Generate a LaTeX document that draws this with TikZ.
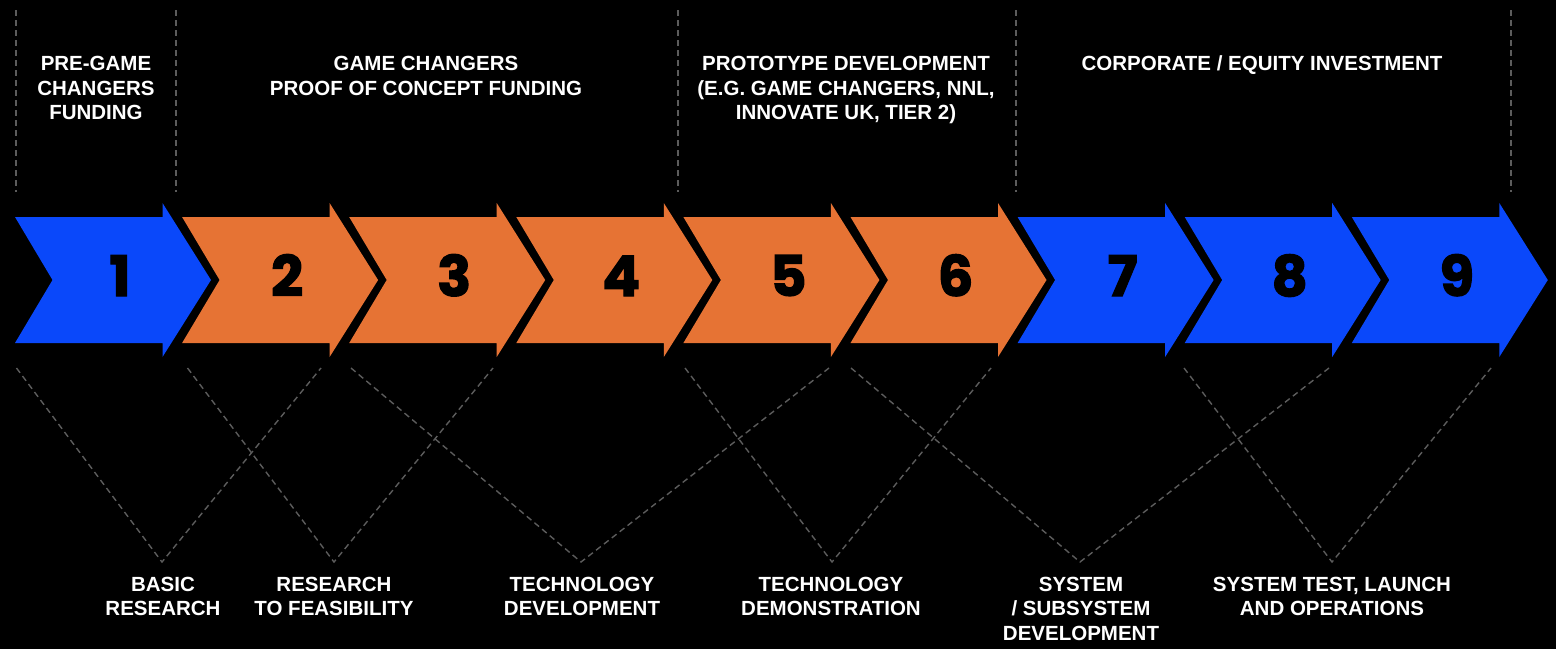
\documentclass[tikz,border=0pt]{standalone}
\usepackage{fontspec}
\setmainfont{Liberation Sans}
\newfontfamily\numfont{Poppins}[BoldFeatures={FakeBold=2.2}]
\definecolor{cblue}{RGB}{10,72,250}
\definecolor{corange}{RGB}{230,115,52}
\definecolor{cgray}{RGB}{92,92,92}
\begin{document}
\begin{tikzpicture}[x=1pt,y=-1pt,
  guide/.style={draw=cgray, line width=1.4pt, dash pattern=on 6pt off 4pt},
  numlbl/.style={font=\numfont\bfseries\fontsize{56}{56}\selectfont, text=black, anchor=base, inner sep=0pt},
  lbl/.style={font=\bfseries\fontsize{20.5}{24.7}\selectfont, text=white, align=center, inner sep=0pt, anchor=base}]
\fill[black] (0,0) rectangle (1556,649);
\useasboundingbox (0,0) rectangle (1556,649);
% chevrons
\foreach \i/\c in {1/cblue,2/corange,3/corange,4/corange,5/corange,6/corange,7/cblue,8/cblue,9/cblue}{
  \pgfmathsetmacro\xo{15+167.1*(\i-1)}
  \fill[\c] (\xo,217) -- (\xo+147.5,217) -- (\xo+147.5,203) -- (\xo+196,280) -- (\xo+147.5,357) -- (\xo+147.5,343) -- (\xo,343) -- (\xo+37.5,280) -- cycle;
  \node[numlbl] (n\i) at (\xo+105,296) {\i};
}
% top vertical guides
\foreach \k/\x in {1/16,2/176,3/678,4/1016,5/1511}{
  \coordinate (ta\k) at (\x,10);
  \coordinate (tb\k) at (\x,192);
  \draw[guide] (ta\k) -- (tb\k);
}
% top labels (anchor at baseline of last line)
\node[lbl] (f1) at (96,119.9) {PRE-GAME\\CHANGERS\\FUNDING};
\node[lbl] (f2) at (426,95.2) {GAME CHANGERS\\PROOF OF CONCEPT FUNDING};
\node[lbl] (f3) at (846,119.9) {PROTOTYPE DEVELOPMENT\\(E.G. GAME CHANGERS, NNL,\\INNOVATE UK, TIER 2)};
\node[lbl] (f4) at (1262,70.5) {CORPORATE / EQUITY INVESTMENT};
% bottom V guides
\foreach \k/\a/\v/\b in {1/16.5/162/321,2/187.5/334/493,3/351/581/829,4/685/832/991,5/851/1080/1329,6/1184/1332/1491}{
  \coordinate (va\k) at (\a,368);
  \coordinate (vv\k) at (\v,562);
  \coordinate (vb\k) at (\b,368);
  \draw[guide] (va\k) -- (vv\k) -- (vb\k);
}
% bottom labels (anchor at baseline of last line)
\node[lbl] (s1) at (163,615.7) {BASIC\\RESEARCH};
\node[lbl] (s2) at (334,615.7) {RESEARCH\\TO FEASIBILITY};
\node[lbl] (s3) at (582,615.7) {TECHNOLOGY\\DEVELOPMENT};
\node[lbl] (s4) at (831,615.7) {TECHNOLOGY\\DEMONSTRATION};
\node[lbl] (s5) at (1081,640.4) {SYSTEM\\/ SUBSYSTEM\\DEVELOPMENT};
\node[lbl] (s6) at (1332,615.7) {SYSTEM TEST, LAUNCH\\AND OPERATIONS};
\end{tikzpicture}
\end{document}
